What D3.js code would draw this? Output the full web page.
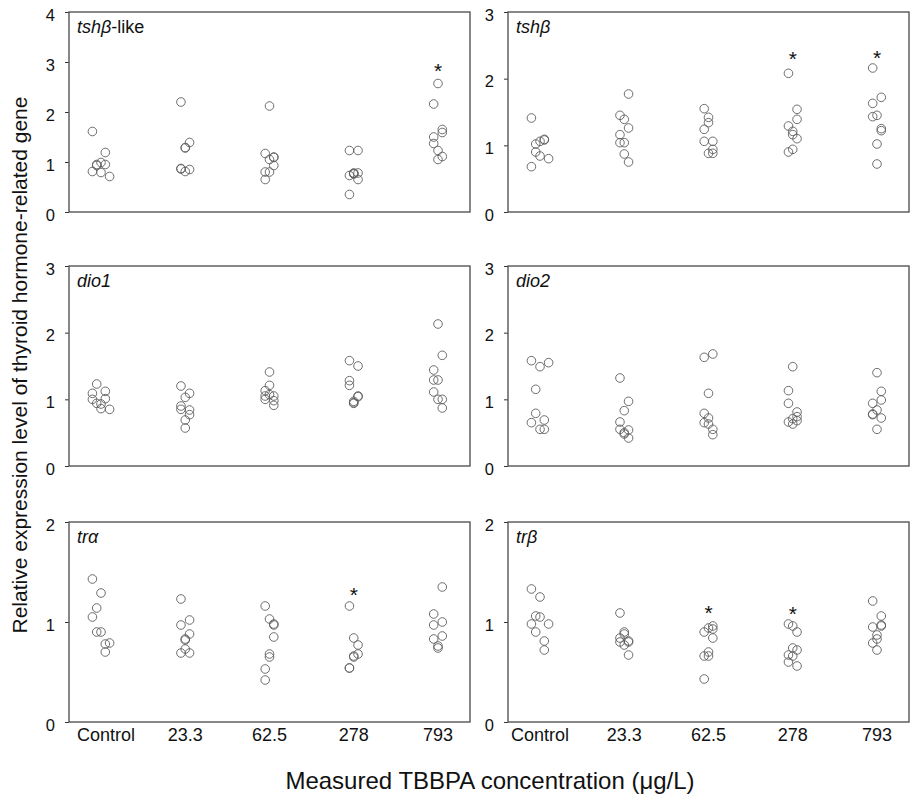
<!DOCTYPE html>
<html>
<head>
<meta charset="utf-8">
<script src="https://cdn.jsdelivr.net/npm/d3@7"></script>
<style>
  body { margin: 0; background: #fff; }
  text { font-family: "Liberation Sans", Arial, sans-serif; }
</style>
</head>
<body>
<script>
// categories on the x axis
var categories = ["Control", "23.3", "62.5", "278", "793"];

// gene names: italic part, plain part
var geneLabels = [["tshβ", "-like"], ["tshβ", ""], ["dio1", ""], ["dio2", ""], ["trα", ""], ["trβ", ""]];
var yMaxes = [4, 3, 3, 3, 2, 2];

// relative expression values, one list per concentration group
var tshbLikeVals = [
  [1.61, 1.19, 0.93, 0.95, 0.99, 0.95, 0.81, 0.79, 0.71],
  [2.20, 1.39, 1.28, 1.29, 0.87, 0.86, 0.81, 0.85],
  [2.12, 1.17, 1.10, 1.09, 1.05, 0.93, 0.80, 0.80, 0.65],
  [1.23, 1.23, 0.73, 0.78, 0.77, 0.78, 0.65, 0.35, 0.76],
  [2.57, 2.16, 1.65, 1.59, 1.50, 1.37, 1.23, 1.11, 1.05]
];
var tshbVals = [
  [1.41, 1.02, 1.06, 1.08, 1.09, 0.90, 0.84, 0.80, 0.68],
  [1.77, 1.45, 1.39, 1.26, 1.16, 1.04, 1.04, 0.87, 0.75],
  [1.55, 1.42, 1.34, 1.24, 1.06, 1.06, 0.94, 0.88, 0.88],
  [2.08, 1.54, 1.39, 1.29, 1.21, 1.16, 1.10, 0.94, 0.90],
  [2.16, 1.72, 1.63, 1.45, 1.43, 1.25, 1.22, 1.02, 0.72]
];
var dio1Vals = [
  [1.23, 1.12, 1.09, 1.00, 1.01, 0.94, 0.93, 0.86, 0.85],
  [1.20, 1.09, 1.03, 0.90, 0.85, 0.84, 0.77, 0.69, 0.57],
  [1.41, 1.21, 1.13, 1.05, 1.05, 1.00, 0.98, 0.91, 1.07],
  [1.58, 1.50, 1.28, 1.21, 1.05, 1.04, 0.97, 0.94, 0.95],
  [2.13, 1.66, 1.44, 1.29, 1.29, 1.11, 1.00, 1.00, 0.87]
];
var dio2Vals = [
  [1.58, 1.49, 1.55, 1.15, 0.79, 0.65, 0.69, 0.55, 0.55],
  [1.32, 0.97, 0.83, 0.66, 0.55, 0.54, 0.48, 0.42, 0.50],
  [1.63, 1.68, 1.09, 0.79, 0.72, 0.65, 0.63, 0.55, 0.47],
  [1.49, 1.13, 0.94, 0.81, 0.74, 0.71, 0.66, 0.68, 0.63],
  [1.40, 1.12, 0.99, 0.94, 0.84, 0.78, 0.77, 0.72, 0.55]
];
var traVals = [
  [1.43, 1.29, 1.14, 1.05, 0.90, 0.90, 0.78, 0.79, 0.70],
  [1.23, 1.02, 0.97, 0.88, 0.82, 0.83, 0.73, 0.69, 0.69],
  [1.16, 1.03, 0.97, 0.98, 0.85, 0.68, 0.65, 0.53, 0.42],
  [1.16, 0.84, 0.77, 0.68, 0.66, 0.65, 0.54, 0.54],
  [1.35, 1.08, 1.00, 0.97, 0.86, 0.83, 0.76, 0.74]
];
var trbVals = [
  [1.33, 1.25, 1.06, 1.05, 0.98, 0.98, 0.90, 0.81, 0.72],
  [1.09, 0.90, 0.88, 0.84, 0.81, 0.80, 0.80, 0.77, 0.67],
  [0.96, 0.94, 0.93, 0.90, 0.84, 0.70, 0.66, 0.66, 0.43],
  [0.98, 0.96, 0.90, 0.74, 0.72, 0.67, 0.66, 0.60, 0.56],
  [1.21, 1.06, 0.95, 0.97, 0.96, 0.87, 0.83, 0.79, 0.72]
];

// dot-plot lane of each value (side-by-side offset inside a group)
var tshbLikeLanes = [
  [-2, 1, -1, -1, 0, 1, -2, 0, 2],
  [-1, 1, 0, 0, -1, -1, 0, 1],
  [0, -1, 1, 1, 0, 1, -1, 0, -1],
  [-1, 1, -1, 0, 0, 1, 1, -1, 0],
  [0, -1, 1, 1, -1, -1, 0, 1, 0]
];
var tshbLanes = [
  [-2, -1, 0, 1, 1, -1, 0, 2, -2],
  [1, -1, 0, 1, -1, -1, 0, 0, 1],
  [-1, 0, 0, -1, -1, 1, 1, 0, 1],
  [-1, 1, 1, -1, 0, 0, 1, 0, -1],
  [-1, 1, -1, 0, -1, 1, 1, 0, 0]
];
var dio1Lanes = [
  [-1, 1, -2, -2, 1, -1, 0, 0, 2],
  [-1, 1, 0, -1, -1, 1, 1, 0, 0],
  [0, 0, -1, -1, 1, -1, 1, 1, 0],
  [-1, 1, -1, -1, 1, 1, 0, 0, 0],
  [0, 1, -1, -1, 0, -1, 0, 1, 1]
];
var dio2Lanes = [
  [-2, 0, 2, -1, -1, -2, 1, 0, 1],
  [-1, 1, 0, -1, -1, 1, 0, 1, 0],
  [-1, 1, 0, -1, 0, -1, 0, 1, 1],
  [0, -1, -1, 1, 1, 0, -1, 1, 0],
  [0, 1, 1, -1, 0, -1, -1, 1, 0]
];
var traLanes = [
  [-2, 0, -1, -2, -1, 0, 1, 2, 1],
  [-1, 1, -1, 1, 0, 0, 0, -1, 1],
  [-1, 0, 1, 1, 1, 0, 0, -1, -1],
  [-1, 0, 1, 1, 0, 0, -1, -1],
  [1, -1, 1, -1, 1, -1, 0, 0]
];
var trbLanes = [
  [-2, 0, -1, 0, -2, 2, -1, 1, 1],
  [-1, 0, 0, -1, 1, -1, 1, 0, 1],
  [1, 0, 1, -1, 1, 0, -1, 0, -1],
  [-1, 0, 1, 0, 1, -1, 0, -1, 1],
  [-1, 1, -1, 1, 1, 0, 0, -1, 0]
];

// significance asterisks: [panel, category, height]
var starMarks = [
  [0, "793", 2.93],
  [1, "278", 2.38], [1, "793", 2.40],
  [4, "278", 1.33],
  [5, "62.5", 1.15], [5, "278", 1.14]
];

var allVals = [tshbLikeVals, tshbVals, dio1Vals, dio2Vals, traVals, trbVals];
var allLanes = [tshbLikeLanes, tshbLanes, dio1Lanes, dio2Lanes, traLanes, trbLanes];

var svgWidth = 917, svgHeight = 802;
var svg = d3.select("body").append("svg")
  .attr("width", svgWidth)
  .attr("height", svgHeight);

// panel layout
var colX = [69, 508];
var rowY = [12, 266, 522];
var panelW = 401, panelH = 200;

var x = d3.scalePoint()
  .domain(categories)
  .range([0, panelW])
  .padding(0.38);

var lane = d3.scaleLinear().domain([-2, 2]).range([-8.6, 8.6]);

allVals.forEach(function(vals, i) {
  var col = i % 2, row = Math.floor(i / 2);
  var g = svg.append("g")
    .attr("transform", "translate(" + colX[col] + "," + rowY[row] + ")");

  var y = d3.scaleLinear().domain([0, yMaxes[i]]).range([panelH, 0]);

  var yAxis = g.append("g")
    .call(d3.axisLeft(y)
      .tickValues(d3.range(0, yMaxes[i] + 1))
      .tickFormat(d3.format("d"))
      .tickSize(4).tickPadding(10).tickSizeOuter(0));
  yAxis.select(".domain").remove();
  yAxis.selectAll("line").attr("stroke", "#333");
  yAxis.selectAll("text")
    .attr("dy", "0.5em")
    .attr("font-size", 16.5)
    .attr("fill", "#111")
    .style("font-family", "'Liberation Sans', Arial, sans-serif");

  // frame
  g.append("rect")
    .attr("width", panelW)
    .attr("height", panelH)
    .attr("fill", "none")
    .attr("stroke", "#555")
    .attr("stroke-width", 1.4);

  // gene name
  var lbl = g.append("text")
    .attr("x", 8)
    .attr("y", 21)
    .attr("font-size", 18)
    .attr("fill", "#111");
  lbl.append("tspan").attr("font-style", "italic").text(geneLabels[i][0]);
  if (geneLabels[i][1]) lbl.append("tspan").text(geneLabels[i][1]);

  // points
  var pts = [];
  vals.forEach(function(group, c) {
    group.forEach(function(v, k) {
      pts.push({cat: categories[c], value: v, lane: allLanes[i][c][k]});
    });
  });
  g.append("g")
    .selectAll("circle")
    .data(pts)
    .enter()
    .append("circle")
    .attr("cx", function(d) { return x(d.cat) + lane(d.lane); })
    .attr("cy", function(d) { return y(d.value); })
    .attr("r", 4.3)
    .attr("fill", "none")
    .attr("stroke", "#5e5e5e")
    .attr("stroke-width", 0.9);

  // asterisks
  g.append("g")
    .selectAll("text")
    .data(starMarks.filter(function(s) { return s[0] === i; }))
    .enter()
    .append("text")
    .attr("x", function(d) { return x(d[1]); })
    .attr("y", function(d) { return y(d[2]); })
    .attr("dy", "0.6em")
    .attr("text-anchor", "middle")
    .attr("font-size", 21)
    .attr("fill", "#111")
    .text("*");

  // category labels on bottom row only
  if (row === 2) {
    g.append("g")
      .selectAll("text")
      .data(categories)
      .enter()
      .append("text")
      .attr("x", function(d) { return x(d); })
      .attr("dx", function(d, k) { return (k === 0 && col === 0) ? 5 : 0; })
      .attr("y", panelH + 19)
      .attr("text-anchor", "middle")
      .attr("font-size", 18)
      .attr("fill", "#111")
      .text(function(d) { return d; });
  }
});

// axis titles
svg.append("text")
  .attr("transform", "rotate(-90)")
  .attr("x", -365)
  .attr("y", 27)
  .attr("text-anchor", "middle")
  .attr("font-size", 21)
  .attr("fill", "#111")
  .text("Relative expression level of thyroid hormone-related gene");

svg.append("text")
  .attr("x", 490)
  .attr("y", 789)
  .attr("text-anchor", "middle")
  .attr("font-size", 24)
  .attr("fill", "#111")
  .text("Measured TBBPA concentration (μg/L)");
</script>
</body>
</html>
